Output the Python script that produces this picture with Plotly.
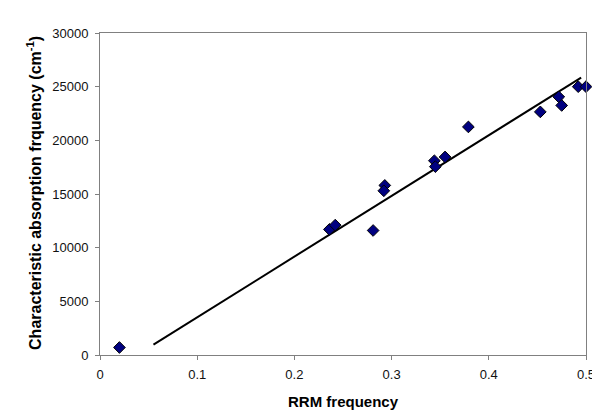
import plotly.graph_objects as go

rrm_freq = [0.020, 0.236, 0.242, 0.281, 0.293, 0.292, 0.344, 0.345, 0.355, 0.379,
            0.453, 0.472, 0.475, 0.492, 0.500]
absorption = [700, 11700, 12100, 11600, 15800, 15300, 18100, 17550, 18450, 21250,
              22650, 24050, 23250, 25000, 25000]

fit_x = [0.055, 0.495]
fit_y = [970, 25850]

x_ticks = [0, 0.1, 0.2, 0.3, 0.4, 0.5]
x_tick_labels = ["0", "0.1", "0.2", "0.3", "0.4", "0.5"]
y_ticks = [0, 5000, 10000, 15000, 20000, 25000, 30000]
y_tick_labels = ["0", "5000", "10000", "15000", "20000", "25000", "30000"]

x_title = "<b>RRM frequency</b>"
y_title = "<b>Characteristic absorption frquency (cm<sup>-1</sup>)</b>"

FONT = "Liberation Sans, Arial"

fig = go.Figure()
fig.add_trace(go.Scatter(x=fit_x, y=fit_y, mode="lines",
                         line=dict(color="black", width=2), showlegend=False,
                         hoverinfo="skip"))
fig.add_trace(go.Scatter(x=rrm_freq, y=absorption, mode="markers",
                         marker=dict(symbol="diamond", size=9, color="#000080",
                                     line=dict(color="black", width=1)),
                         showlegend=False, cliponaxis=False))

axis_common = dict(showgrid=False, zeroline=False, showline=True, linecolor="#808080",
                   linewidth=1, mirror=True, ticks="outside", ticklen=4,
                   tickcolor="#808080", automargin=False,
                   tickfont=dict(family=FONT, size=13, color="#111"))

fig.update_xaxes(range=[0, 0.5], tickvals=x_ticks, ticktext=x_tick_labels,
                 ticklabelstandoff=3, **axis_common)
fig.update_yaxes(range=[0, 30000], tickvals=y_ticks, ticktext=y_tick_labels,
                 ticklabelstandoff=4, **axis_common)

fig.add_annotation(text=x_title, xref="paper", yref="paper", x=0.5, y=-0.143,
                   xanchor="center", yanchor="middle", showarrow=False,
                   font=dict(family=FONT, size=15, color="black"))
fig.add_annotation(text=y_title, xref="paper", yref="paper", x=-0.136, y=0.503,
                   xanchor="center", yanchor="middle", showarrow=False, textangle=-90,
                   font=dict(family=FONT, size=16, color="black"))

fig.update_layout(width=600, height=414, margin=dict(l=92, r=22, t=25, b=67),
                  plot_bgcolor="white", paper_bgcolor="white")

fig.write_html("out.html")
